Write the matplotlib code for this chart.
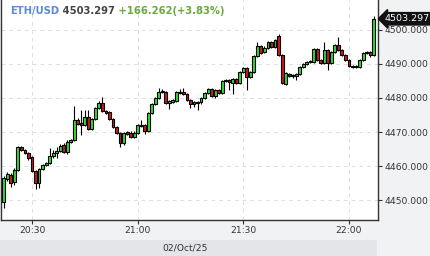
import matplotlib
matplotlib.use("Agg")
import matplotlib.pyplot as plt
from matplotlib.patches import Rectangle

# 1-minute candles starting 20:22 (minutes after 20:00)
start_minute = 22
opens = [4449.4, 4456.2, 4457.4, 4455.3, 4458.8, 4465.6, 4464.7, 4463.8, 4462.6, 4458.5,
         4455.0, 4459.1, 4460.3, 4460.9, 4462.9, 4463.8, 4464.4, 4466.2, 4464.1, 4467.1,
         4467.6, 4473.5, 4472.6, 4472.1, 4474.4, 4470.9, 4473.8, 4477.1, 4478.5, 4476.2,
         4475.9, 4473.8, 4471.5, 4469.7, 4466.8, 4470.0, 4469.7, 4468.5, 4469.7, 4471.8,
         4472.1, 4470.3, 4475.6, 4478.2, 4480.0, 4481.8, 4481.8, 4478.5, 4478.8, 4479.1,
         4481.8, 4481.8, 4481.2, 4479.4, 4478.2, 4478.5, 4478.8, 4480.0, 4481.5, 4482.6,
         4480.6, 4482.4, 4481.5, 4485.0, 4485.3, 4484.4, 4485.6, 4484.4, 4487.6, 4488.8,
         4486.2, 4487.6, 4492.4, 4495.3, 4493.5, 4494.7, 4496.5, 4495.0, 4498.2, 4492.6,
         4484.1, 4487.1, 4486.5, 4486.5, 4487.1, 4489.1, 4490.0, 4490.6, 4490.6, 4494.4,
         4491.2, 4490.3, 4494.1, 4490.3, 4493.5, 4495.6, 4494.1, 4492.6, 4491.2, 4489.4,
         4489.1, 4489.1, 4491.2, 4493.2, 4493.5, 4492.6]
highs = [4457.1, 4458.2, 4457.9, 4459.4, 4465.9, 4465.9, 4465.0, 4464.1, 4462.9, 4458.8,
         4459.4, 4460.6, 4461.2, 4465.3, 4464.7, 4465.6, 4466.5, 4466.8, 4467.6, 4467.9,
         4477.6, 4474.1, 4476.5, 4476.5, 4476.5, 4474.1, 4477.4, 4479.1, 4480.3, 4476.5,
         4476.2, 4474.1, 4471.8, 4470.0, 4470.0, 4470.3, 4470.3, 4470.3, 4472.4, 4473.5,
         4472.4, 4475.9, 4478.5, 4480.3, 4482.9, 4482.6, 4482.1, 4479.4, 4479.7, 4482.1,
         4482.6, 4482.9, 4481.5, 4479.7, 4479.1, 4479.1, 4480.3, 4481.8, 4482.9, 4482.9,
         4482.6, 4482.6, 4485.3, 4485.6, 4485.6, 4485.9, 4485.9, 4487.9, 4489.1, 4489.1,
         4487.9, 4492.6, 4496.5, 4495.6, 4495.3, 4496.8, 4496.8, 4497.4, 4498.8, 4492.9,
         4487.6, 4487.4, 4487.1, 4487.4, 4489.4, 4490.3, 4490.9, 4491.2, 4494.7, 4494.7,
         4491.5, 4496.5, 4494.4, 4493.8, 4495.9, 4497.9, 4494.4, 4492.9, 4491.5, 4489.7,
         4489.7, 4491.5, 4493.5, 4493.8, 4493.8, 4504.1]
lows = [4447.6, 4455.6, 4453.8, 4454.4, 4458.5, 4464.4, 4463.5, 4461.8, 4458.2, 4453.2,
        4453.5, 4458.8, 4460.0, 4460.6, 4462.4, 4462.4, 4464.1, 4463.8, 4463.5, 4466.8,
        4467.4, 4472.1, 4469.1, 4471.8, 4470.6, 4470.6, 4473.5, 4476.8, 4475.9, 4475.3,
        4473.5, 4471.2, 4469.4, 4465.6, 4466.2, 4469.1, 4468.2, 4468.2, 4469.4, 4471.5,
        4469.4, 4470.0, 4475.3, 4477.9, 4479.7, 4481.5, 4478.2, 4476.8, 4478.5, 4478.8,
        4481.2, 4480.9, 4479.1, 4477.1, 4477.4, 4476.5, 4478.2, 4479.7, 4481.2, 4480.3,
        4480.0, 4481.2, 4481.2, 4484.7, 4482.4, 4481.2, 4484.1, 4484.1, 4487.4, 4482.4,
        4485.9, 4487.4, 4492.1, 4492.9, 4493.2, 4494.4, 4494.7, 4494.7, 4492.4, 4484.1,
        4483.8, 4486.2, 4485.9, 4485.3, 4486.8, 4488.8, 4489.7, 4490.3, 4490.3, 4490.9,
        4490.0, 4490.0, 4488.2, 4490.0, 4493.2, 4493.8, 4492.4, 4490.9, 4489.1, 4488.8,
        4488.8, 4488.8, 4490.9, 4492.9, 4492.1, 4492.4]
closes = [4456.5, 4457.6, 4455.0, 4458.8, 4465.6, 4464.7, 4463.8, 4462.4, 4458.5, 4455.0,
          4459.1, 4460.3, 4460.9, 4462.9, 4463.8, 4464.4, 4465.9, 4464.1, 4467.1, 4467.6,
          4473.5, 4472.4, 4472.1, 4474.4, 4470.9, 4473.8, 4477.1, 4478.5, 4476.2, 4475.6,
          4473.8, 4471.5, 4469.7, 4466.8, 4469.7, 4469.4, 4468.5, 4469.7, 4472.1, 4472.1,
          4470.3, 4475.6, 4478.2, 4480.0, 4481.8, 4482.1, 4478.5, 4479.1, 4479.4, 4481.8,
          4481.5, 4481.2, 4479.4, 4478.2, 4478.8, 4478.8, 4480.0, 4481.5, 4482.6, 4480.6,
          4482.4, 4481.5, 4485.0, 4485.3, 4484.7, 4485.6, 4484.4, 4487.6, 4488.8, 4486.2,
          4487.6, 4492.4, 4495.3, 4493.2, 4494.7, 4496.5, 4495.0, 4497.1, 4492.6, 4484.4,
          4487.4, 4486.5, 4486.8, 4487.1, 4489.1, 4490.0, 4490.6, 4490.9, 4494.4, 4491.2,
          4490.3, 4494.1, 4490.3, 4493.5, 4495.6, 4494.1, 4492.6, 4491.2, 4489.4, 4489.1,
          4489.4, 4491.2, 4493.2, 4493.5, 4492.6, 4503.297]

tick_minutes = [30, 60, 90, 120]
tick_labels = ["20:30", "21:00", "21:30", "22:00"]
price_ticks = [4450, 4460, 4470, 4480, 4490, 4500]
symbol = "ETH/USD"
last_text = "4503.297"
change_text = "+166.262(+3.83%)"
date_text = "02/Oct/25"

up_col = "#2fe02f"
down_col = "#d01818"

W, H = 430, 256
fig = plt.figure(figsize=(W / 100, H / 100), dpi=100)
fig.patch.set_facecolor("#f1f2f4")
ax = fig.add_axes([1 / W, 36 / H, 377 / W, 220 / H])
ax.set_facecolor("white")

times = [start_minute + i for i in range(len(closes))]
for t, o, h, l, c in zip(times, opens, highs, lows, closes):
    col = up_col if c >= o else down_col
    ax.vlines(t, l, h, color="black", lw=0.8, zorder=2)
    ax.bar(t, max(abs(c - o), 0.05), bottom=min(o, c), width=0.82,
           color=col, edgecolor="black", lw=0.8, zorder=3)

ax.set_xlim(21.2, 128.24)
ax.set_ylim(4444.12, 4508.82)

ax.set_xticks(tick_minutes)
ax.set_xticklabels(tick_labels)
ax.set_yticks(price_ticks)
ax.yaxis.tick_right()
ax.set_yticklabels(["%.3f" % p for p in price_ticks])
ax.tick_params(axis="both", length=3, width=0.8, color="#333333",
               labelsize=6.6, labelcolor="#333333", pad=1.5)
ax.grid(True, color="#dedede", lw=0.7, ls=(0, (4, 4)))
ax.set_axisbelow(True)
for s in ["left", "bottom", "right"]:
    ax.spines[s].set_color("#333333")
    ax.spines[s].set_linewidth(1.0)
ax.spines["top"].set_visible(False)

# price tag on the right axis
ax.annotate(last_text, xy=(1.0, closes[-1]),
            xycoords=ax.get_yaxis_transform(),
            xytext=(5, 0), textcoords="offset points",
            ha="left", va="center", fontsize=6.8, color="white",
            bbox=dict(boxstyle="larrow,pad=0.18", fc="#111111", ec="#111111"),
            annotation_clip=False, zorder=5)

# header
t1 = fig.text(10 / W, 1 - 11 / H, symbol, color="#5a8ad8",
              fontsize=7.2, fontweight="bold", va="center")
t2 = ax.annotate(" " + last_text, xy=(1, 0), xycoords=t1, va="bottom",
                 color="#444444", fontsize=7.2, fontweight="bold")
ax.annotate(" " + change_text, xy=(1, 0), xycoords=t2, va="bottom",
            color="#6aaa3a", fontsize=7.2, fontweight="bold")

# date strip
fig.patches.append(Rectangle((0, 0), 377 / W, 16 / H, transform=fig.transFigure,
                             fc="#e3e5e8", ec="none", zorder=0))
fig.text(208 / W, 8 / H, date_text, ha="right", va="center",
         fontsize=6.6, color="#333333")

fig.savefig("out.png", dpi=100, facecolor=fig.get_facecolor())
